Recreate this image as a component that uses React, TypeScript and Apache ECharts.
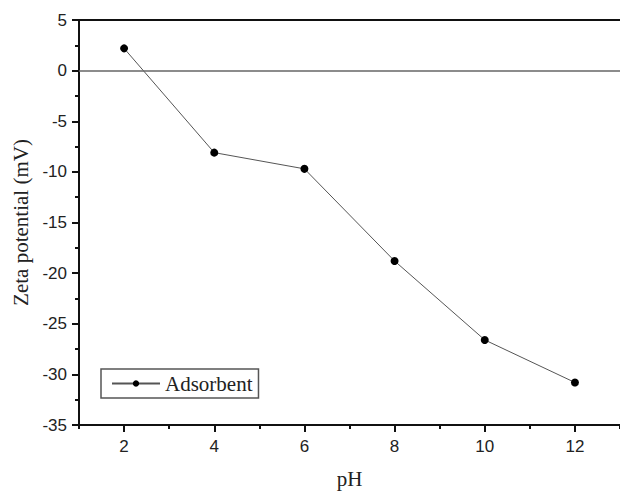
import React, { useEffect, useRef } from "react";
import * as echarts from "echarts";

const pH = [2, 4, 6, 8, 10, 12];
const zeta = [2.2, -8.1, -9.7, -18.8, -26.6, -30.8];
const xMajorTicks = [2, 4, 6, 8, 10, 12];
const xMinorTicks = [1, 3, 5, 7, 9, 11, 13];
const seriesName = "Adsorbent";

export default function App() {
  const ref = useRef<HTMLDivElement>(null);
  useEffect(() => {
    document.body.style.margin = "0";
    const chart = echarts.init(ref.current!, null, { renderer: "svg" });
    const tickFont = { fontFamily: "Liberation Sans, Arial", fontSize: 17, color: "#222" };
    const serif = "Liberation Serif, Times New Roman";
    chart.setOption({
      animation: false,
      backgroundColor: "#fff",
      grid: { left: 79, top: 20, width: 553, height: 409 },
      legend: {
        left: 101,
        top: 369,
        data: [seriesName],
        orient: "horizontal",
        borderColor: "#555",
        borderWidth: 1.5,
        borderRadius: 0,
        padding: [4, 6, 4, 10],
        itemWidth: 48,
        itemHeight: 8,
        itemGap: 4,
        textStyle: { fontFamily: serif, fontSize: 21, color: "#222" },
      },
      xAxis: [
        {
          type: "value",
          min: 1,
          max: 13,
          position: "bottom",
          name: "pH",
          nameLocation: "middle",
          nameGap: 43,
          nameTextStyle: { fontFamily: serif, fontSize: 21, color: "#222" },
          axisLine: { show: true, onZero: false, lineStyle: { color: "#111", width: 2 } },
          axisTick: { show: true, length: 7, customValues: xMajorTicks, lineStyle: { color: "#111", width: 2 } },
          axisLabel: { show: true, margin: 13, customValues: xMajorTicks, ...tickFont },
          splitLine: { show: false },
        },
        {
          type: "value",
          min: 1,
          max: 13,
          position: "bottom",
          axisLine: { show: false, onZero: false },
          axisTick: { show: true, length: 4, customValues: xMinorTicks, lineStyle: { color: "#111", width: 2 } },
          axisLabel: { show: false },
          splitLine: { show: false },
        },
        {
          type: "value",
          min: 1,
          max: 13,
          position: "top",
          axisLine: { show: true, onZero: false, lineStyle: { color: "#111", width: 2 } },
          axisTick: { show: false },
          axisLabel: { show: false },
          splitLine: { show: false },
        },
      ],
      yAxis: {
        type: "value",
        min: -35,
        max: 5,
        interval: 5,
        name: "Zeta potential (mV)",
        nameLocation: "middle",
        nameGap: 46,
        nameTextStyle: { fontFamily: serif, fontSize: 21, color: "#222" },
        axisLine: { show: true, onZero: false, lineStyle: { color: "#111", width: 2 } },
        axisTick: { show: true, length: 7, lineStyle: { color: "#111", width: 2 } },
        minorTick: { show: true, splitNumber: 2, length: 4, lineStyle: { color: "#111", width: 2 } },
        axisLabel: { margin: 12, ...tickFont },
        splitLine: { show: false },
      },
      series: [
        {
          name: seriesName,
          type: "line",
          xAxisIndex: 0,
          data: pH.map((x, i) => [x, zeta[i]]),
          symbol: "circle",
          symbolSize: 8,
          itemStyle: { color: "#000" },
          lineStyle: { color: "#555", width: 1 },
          markLine: {
            silent: true,
            symbol: "none",
            label: { show: false },
            lineStyle: { color: "#666", width: 1.5, type: "solid" },
            data: [{ yAxis: 0 }],
          },
        },
      ],
    });
    return () => chart.dispose();
  }, []);
  return <div ref={ref} style={{ width: 620, height: 494 }} />;
}
